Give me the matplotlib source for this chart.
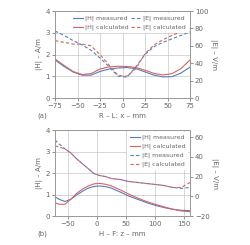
import matplotlib
matplotlib.use("Agg")
import matplotlib.pyplot as plt

# (a) R - L scan
x_a = [-75, -65, -55, -45, -35, -25, -15, -5, 5, 15, 25, 35, 45, 55, 65, 75]
h_meas_a = [1.75, 1.45, 1.2, 1.05, 1.05, 1.22, 1.33, 1.38, 1.4, 1.35, 1.2, 1.05, 0.97, 0.98, 1.15, 1.42]
h_calc_a = [1.8, 1.5, 1.22, 1.08, 1.12, 1.33, 1.43, 1.46, 1.45, 1.4, 1.28, 1.13, 1.06, 1.12, 1.35, 1.75]
e_meas_a = [77, 72, 66, 61, 55, 46, 36, 25, 24, 36, 50, 59, 64, 68, 72, 76]
e_calc_a = [66, 64, 62, 62, 60, 50, 38, 26, 25, 34, 51, 61, 67, 72, 76, 80]

# (b) H - F scan
x_b = [-72, -65, -55, -45, -35, -25, -15, -5, 5, 15, 25, 40, 55, 70, 85, 100, 115, 130, 145, 160]
h_meas_b = [0.9, 0.78, 0.68, 0.78, 0.98, 1.15, 1.3, 1.38, 1.4, 1.37, 1.3, 1.12, 0.93, 0.78, 0.63, 0.5, 0.4, 0.32, 0.27, 0.25]
h_calc_b = [0.62, 0.55, 0.55, 0.78, 1.05, 1.25, 1.4, 1.5, 1.52, 1.48, 1.4, 1.22, 1.02, 0.84, 0.68, 0.55, 0.43, 0.32, 0.24, 0.2]
e_meas_b = [57, 53, 48, 44, 38, 33, 28, 23, 21, 20, 18, 17, 15, 14, 13, 12, 11, 9, 8, 9]
e_calc_b = [51, 50, 48, 44, 38, 33, 28, 23, 21, 20, 18, 17, 15, 14, 13, 12, 11, 9, 9, 14]

blue = "#4f7fbf"
red = "#d9625e"
txt = "#666666"
fs = 5

plt.rcParams["font.family"] = "DejaVu Sans"
plt.rcParams["font.size"] = fs

fig = plt.figure(figsize=(2.5, 2.45), dpi=100)


def style(ax):
    for s in ax.spines.values():
        s.set_color("#999999")
        s.set_linewidth(0.6)
    ax.tick_params(colors=txt, labelsize=fs, length=2, width=0.5, pad=1.5)


def panel(rect, x, hm, hc, em, ec, xlim, xticks, elim, eticks, xlabel, tag, legend_top):
    ax = fig.add_axes(rect)
    ax.grid(True, color="#c8c8c8", linewidth=0.5)
    l1, = ax.plot(x, hm, color=blue, lw=0.8, label="|H| measured")
    l2, = ax.plot(x, hc, color=red, lw=0.8, label="|H| calculated")
    ax.set_xlim(*xlim)
    ax.set_ylim(0, 4)
    ax.set_xticks(xticks)
    ax.set_yticks([0, 1, 2, 3, 4])
    ax.set_ylabel("|H| – A/m", color=txt, fontsize=fs, labelpad=2)
    ax.set_xlabel(xlabel, color=txt, fontsize=fs, labelpad=3)
    style(ax)
    ax2 = ax.twinx()
    l3, = ax2.plot(x, em, color=blue, lw=0.8, ls=(0, (3, 2)), label="|E| measured")
    l4, = ax2.plot(x, ec, color=red, lw=0.8, ls=(0, (3, 2)), label="|E| calculated")
    ax2.set_ylim(*elim)
    ax2.set_yticks(eticks)
    ax2.set_ylabel("|E| – V/m", color=txt, fontsize=fs, rotation=270, labelpad=6)
    style(ax2)
    handles = [l1, l2, l3, l4]
    if legend_top:
        leg = ax2.legend(handles=handles, ncol=2, loc="upper center", fontsize=fs - 0.5,
                         frameon=True, handlelength=1.6, handletextpad=0.4,
                         columnspacing=0.3, borderaxespad=0.3, labelspacing=0.5,
                         bbox_to_anchor=(0.55, 1.0))
    else:
        leg = ax2.legend(handles=handles, ncol=1, loc="upper right", fontsize=fs - 0.5,
                         frameon=True, handlelength=1.6, handletextpad=0.4,
                         borderaxespad=0.3, labelspacing=0.5)
    leg.get_frame().set_edgecolor("none")
    leg.get_frame().set_facecolor("white")
    leg.get_frame().set_alpha(1)
    for t in leg.get_texts():
        t.set_color(txt)
    ax.text(-0.13, -0.2, tag, transform=ax.transAxes, color=txt, fontsize=fs,
            ha="left", va="center")
    return ax


panel([0.22, 0.6, 0.54, 0.355], x_a, h_meas_a, h_calc_a, e_meas_a, e_calc_a,
      (-75, 75), [-75, -50, -25, 0, 25, 50, 75], (0, 100), [0, 20, 40, 60, 80, 100],
      "R – L: x – mm", "(a)", True)
panel([0.22, 0.118, 0.54, 0.351], x_b, h_meas_b, h_calc_b, e_meas_b, e_calc_b,
      (-72, 160), [-50, 0, 50, 100, 150], (-20, 67), [-20, 0, 20, 40, 60],
      "H – F: z – mm", "(b)", False)

fig.savefig("out.png", dpi=100)
